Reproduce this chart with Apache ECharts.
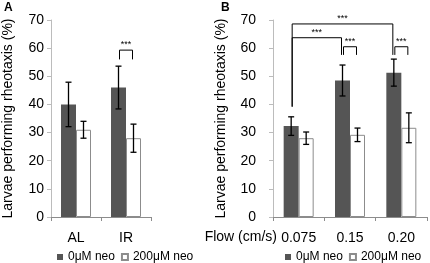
<!DOCTYPE html>
<html>
<head>
<meta charset="utf-8">
<script src="https://cdn.jsdelivr.net/npm/echarts@6/dist/echarts.min.js"></script>
<style>
  html, body { margin: 0; padding: 0; background: #fff; }
  #chart { width: 430px; height: 263px; }
</style>
</head>
<body>
<div id="chart"></div>
<script>
// panel A: AL / IR
const catsA = ['AL', 'IR'];
const ctrlA = [40, 46];
const ctrlErrA = [7.9, 7.6];
const neoA = [31, 28];
const neoErrA = [3, 5];

// panel B: flow rates
const catsB = ['0.075', '0.15', '0.20'];
const ctrlB = [32.3, 48.5, 51.3];
const ctrlErrB = [3.3, 5.5, 4.8];
const neoB = [28, 29.2, 31.7];
const neoErrB = [2.2, 2.4, 5.3];

const yTicks = [0, 10, 20, 30, 40, 50, 60, 70];

// significance brackets: [cat1, side1, cat2, side2, top, leg1, leg2]  side -1 = dark bar, 1 = white bar
const sigA = [[1, -1, 1, 1, 59.3, 56, 56]];
const sigB = [
  [0, -1, 2, -1, 68.6, 39.2, 57.6],
  [0, -1, 1, -1, 63.7, 39.2, 57.6],
  [1, -1, 1, 1, 60.5, 57.6, 57.6],
  [2, -1, 2, 1, 60.5, 57.6, 57.6]
];

const barW = 15;
const darkColor = '#555555';
const font = 'Liberation Sans, Arial, sans-serif';

function errData(means, errs, side) {
  return means.map((m, i) => [i, m - errs[i], m + errs[i], side]);
}

function errRender(params, api) {
  const off = api.value(3) * barW / 2;
  const lo = api.coord([api.value(0), api.value(1)]);
  const hi = api.coord([api.value(0), api.value(2)]);
  const x = lo[0] + off;
  const cap = 3;
  const st = { stroke: '#000', lineWidth: 1.3 };
  return {
    type: 'group',
    children: [
      { type: 'line', shape: { x1: x, y1: lo[1], x2: x, y2: hi[1] }, style: st },
      { type: 'line', shape: { x1: x - cap, y1: lo[1], x2: x + cap, y2: lo[1] }, style: st },
      { type: 'line', shape: { x1: x - cap, y1: hi[1], x2: x + cap, y2: hi[1] }, style: st }
    ]
  };
}

function sigRender(params, api) {
  const a = api.coord([api.value(0), api.value(4)]);
  const b = api.coord([api.value(2), api.value(4)]);
  const x1 = a[0] + api.value(1) * barW / 2 + 1;
  const x2 = b[0] + api.value(3) * barW / 2 - 1;
  const yTop = a[1];
  const y1 = api.coord([api.value(0), api.value(5)])[1];
  const y2 = api.coord([api.value(2), api.value(6)])[1];
  return {
    type: 'group',
    children: [
      {
        type: 'polyline',
        shape: { points: [[x1, y1], [x1, yTop], [x2, yTop], [x2, y2]] },
        style: { stroke: '#000', lineWidth: 1, fill: 'none' }
      },
      {
        type: 'text',
        style: {
          text: '***', x: (x1 + x2) / 2, y: yTop - 1,
          align: 'center', verticalAlign: 'bottom',
          font: '9px ' + font, fill: '#000'
        }
      }
    ]
  };
}

const axisCommonX = {
  type: 'category',
  axisLine: { lineStyle: { color: '#8c8c8c', width: 1 } },
  axisTick: { show: true, length: 4, lineStyle: { color: '#8c8c8c' } },
  axisLabel: { color: '#000', fontSize: 14, fontFamily: font, margin: 14 },
  splitLine: { show: false }
};

const axisCommonY = {
  type: 'value',
  min: yTicks[0],
  max: yTicks[yTicks.length - 1],
  interval: 10,
  name: 'Larvae performing rheotaxis (%)',
  nameLocation: 'middle',
  nameTextStyle: { color: '#000', fontSize: 14, fontFamily: font },
  axisLine: { show: true, lineStyle: { color: '#bcbcbc', width: 1 } },
  axisTick: { show: true, length: 4, lineStyle: { color: '#bcbcbc' } },
  axisLabel: { color: '#000', fontSize: 14, fontFamily: font },
  splitLine: { show: false }
};

const legendCommon = {
  top: 246, width: 170, itemWidth: 6, itemHeight: 6, itemGap: 6, icon: 'rect',
  textStyle: { fontSize: 12, color: '#000', fontFamily: font },
  data: ['0μM neo', '200μM neo']
};

const chart = echarts.init(document.getElementById('chart'));
chart.setOption({
  animation: false,
  textStyle: { fontFamily: font },
  grid: [
    { left: 47, top: 20, width: 104, height: 197 },
    { left: 273, top: 20, width: 154, height: 197 }
  ],
  xAxis: [
    Object.assign({}, axisCommonX, { gridIndex: 0, data: catsA }),
    Object.assign({}, axisCommonX, { gridIndex: 1, data: catsB })
  ],
  yAxis: [
    Object.assign({}, axisCommonY, { gridIndex: 0, nameGap: 36,
      axisLabel: Object.assign({}, axisCommonY.axisLabel, { margin: 7 }) }),
    Object.assign({}, axisCommonY, { gridIndex: 1, nameGap: 45,
      axisLabel: Object.assign({}, axisCommonY.axisLabel, { margin: 17 }) })
  ],
  legend: [
    Object.assign({}, legendCommon, { left: 52 }),
    Object.assign({}, legendCommon, { left: 280 })
  ],
  graphic: [
    { type: 'text', left: 4, top: 2, style: { text: 'A', font: 'bold 12px ' + font, fill: '#000' } },
    { type: 'text', left: 221, top: 2, style: { text: 'B', font: 'bold 12px ' + font, fill: '#000' } },
    { type: 'text', right: 153, top: 230, style: { text: 'Flow (cm/s)', font: '14px ' + font, fill: '#000' } }
  ],
  series: [
    {
      name: '0μM neo', type: 'bar', xAxisIndex: 0, yAxisIndex: 0, data: ctrlA,
      barWidth: barW, barGap: '0%', itemStyle: { color: darkColor }
    },
    {
      name: '200μM neo', type: 'bar', xAxisIndex: 0, yAxisIndex: 0, data: neoA,
      barWidth: barW, barGap: '0%', itemStyle: { color: '#fff', borderColor: '#8c8c8c', borderWidth: 1 }
    },
    {
      name: '0μM neo', type: 'bar', xAxisIndex: 1, yAxisIndex: 1, data: ctrlB,
      barWidth: barW, barGap: '0%', itemStyle: { color: darkColor }
    },
    {
      name: '200μM neo', type: 'bar', xAxisIndex: 1, yAxisIndex: 1, data: neoB,
      barWidth: barW, barGap: '0%', itemStyle: { color: '#fff', borderColor: '#8c8c8c', borderWidth: 1 }
    },
    { type: 'custom', xAxisIndex: 0, yAxisIndex: 0, renderItem: errRender, data: errData(ctrlA, ctrlErrA, -1), z: 5 },
    { type: 'custom', xAxisIndex: 0, yAxisIndex: 0, renderItem: errRender, data: errData(neoA, neoErrA, 1), z: 5 },
    { type: 'custom', xAxisIndex: 1, yAxisIndex: 1, renderItem: errRender, data: errData(ctrlB, ctrlErrB, -1), z: 5 },
    { type: 'custom', xAxisIndex: 1, yAxisIndex: 1, renderItem: errRender, data: errData(neoB, neoErrB, 1), z: 5 },
    { type: 'custom', xAxisIndex: 0, yAxisIndex: 0, renderItem: sigRender, data: sigA, z: 6, clip: false },
    { type: 'custom', xAxisIndex: 1, yAxisIndex: 1, renderItem: sigRender, data: sigB, z: 6, clip: false }
  ]
});
</script>
</body>
</html>
